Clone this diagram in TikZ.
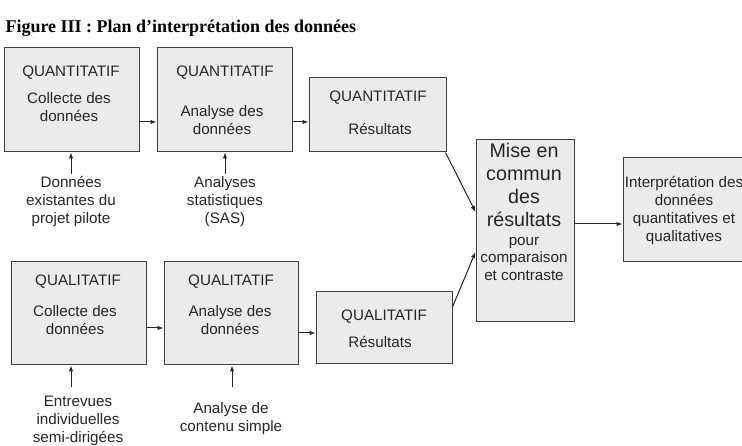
\documentclass[tikz,border=0pt]{standalone}
\usepackage{fontspec}
\setmainfont{Liberation Serif}
\setsansfont{Liberation Sans}
\usepackage{tikz}
\usetikzlibrary{arrows.meta, positioning}
\tikzset{
  box/.style = {rectangle, draw=black!75, fill=black!8, line width=1pt, inner sep=0pt},
  txt/.style = {align=center, text=black!85, inner sep=0pt,
    font=\sffamily\fontsize{15.2}{18}\selectfont},
  bigtxt/.style = {align=center, text=black!85, inner sep=0pt,
    font=\sffamily\fontsize{19.7}{23}\selectfont},
  arrow/.style = {line width=1pt, draw=black!85, -{Latex[length=6pt,width=4.5pt]}},
}

\begin{document}
\begin{tikzpicture}[x=1pt, y=-1pt]
  \useasboundingbox (0,0) rectangle (742,446);
  \node[anchor=base west, font=\bfseries\fontsize{18}{21}\selectfont] (title) at (2,33)
    {Figure III : Plan d'interprétation des données};

  % quantitatif
  \node[box, minimum width=135pt, minimum height=104pt] (qcoll) at (71.5,100) {};
  \node[box, minimum width=135pt, minimum height=104pt] (qanal) at (224.5,100) {};
  \node[box, minimum width=137pt, minimum height=74pt]  (qres)  at (377.5,115) {};
  \node[txt] (qcollhd) at (71,73)    {QUANTITATIF};
  \node[txt] (qcolltx) at (69,107.5) {Collecte des\\données};
  \node[txt] (qanalhd) at (225,73)   {QUANTITATIF};
  \node[txt] (qanaltx) at (222,120)  {Analyse des\\données};
  \node[txt] (qreshd)  at (378,98)   {QUANTITATIF};
  \node[txt] (qrestx)  at (380,129)  {Résultats};

  % qualitatif
  \node[box, minimum width=135pt, minimum height=103pt] (lcoll) at (78.5,313.5) {};
  \node[box, minimum width=134pt, minimum height=103pt] (lanal) at (231,313.5) {};
  \node[box, minimum width=136pt, minimum height=72pt]  (lres)  at (384,328) {};
  \node[txt] (lcollhd) at (78,282)    {QUALITATIF};
  \node[txt] (lcolltx) at (75,320.5)  {Collecte des\\données};
  \node[txt] (lanalhd) at (231,282)   {QUALITATIF};
  \node[txt] (lanaltx) at (230,320.5) {Analyse des\\données};
  \node[txt] (lreshd)  at (384,317)   {QUALITATIF};
  \node[txt] (lrestx)  at (380,342)   {Résultats};

  % mise en commun et interpretation
  \node[box, minimum width=98pt, minimum height=182pt] (mise) at (525,231) {};
  \node[bigtxt] (misetx) at (524,185)   {Mise en\\commun\\des\\résultats};
  \node[txt, font=\sffamily\fontsize{15.2}{17.5}\selectfont] (misesub) at (524,258.5)
    {pour\\comparaison\\et contraste};
  \node[box, minimum width=120pt, minimum height=104pt] (interp) at (683,210) {};
  \node[txt] (interptx) at (684,210.5)
    {Interprétation des\\données\\quantitatives et\\qualitatives};

  % sources
  \node[txt] (srcq1) at (71,201.5)  {Données\\existantes du\\projet pilote};
  \node[txt] (srcq2) at (225,201.5) {Analyses\\statistiques\\(SAS)};
  \node[txt] (srcl1) at (78,421)    {Entrevues\\individuelles\\semi-dirigées};
  \node[txt] (srcl2) at (231,418.5) {Analyse de\\contenu simple};

  \draw[arrow] ([yshift=2pt]srcq1.north) -- (srcq1.north |- qcoll.south);
  \draw[arrow] ([yshift=2pt]srcq2.north) -- (srcq2.north |- qanal.south);
  \draw[arrow] ([xshift=-7pt,yshift=9pt]srcl1.north) -- ([xshift=-7pt]srcl1.north |- lcoll.south);
  \draw[arrow] ([xshift=1pt,yshift=15pt]srcl2.north) -- ([xshift=1pt]srcl2.north |- lanal.south);

  \draw[arrow] ([yshift=-22pt]qcoll.east) -- ([yshift=-22pt]qanal.west);
  \draw[arrow] ([yshift=-22pt]qanal.east) -- ([yshift=-7pt]qres.west);
  \draw[arrow] ([yshift=-14.5pt]lcoll.east) -- ([yshift=-14.5pt]lanal.west);
  \draw[arrow] ([yshift=-19.5pt]lanal.east) -- ([yshift=-5pt]lres.west);

  \draw[arrow] ([xshift=-1pt]qres.south east) -- ([yshift=19pt]mise.west);
  \draw[arrow] ([yshift=21pt]lres.east) -- ([yshift=-21pt]mise.west);
  \draw[arrow] ([yshift=7pt]mise.east) -- ([yshift=-14pt]interp.west);
\end{tikzpicture}
\end{document}
